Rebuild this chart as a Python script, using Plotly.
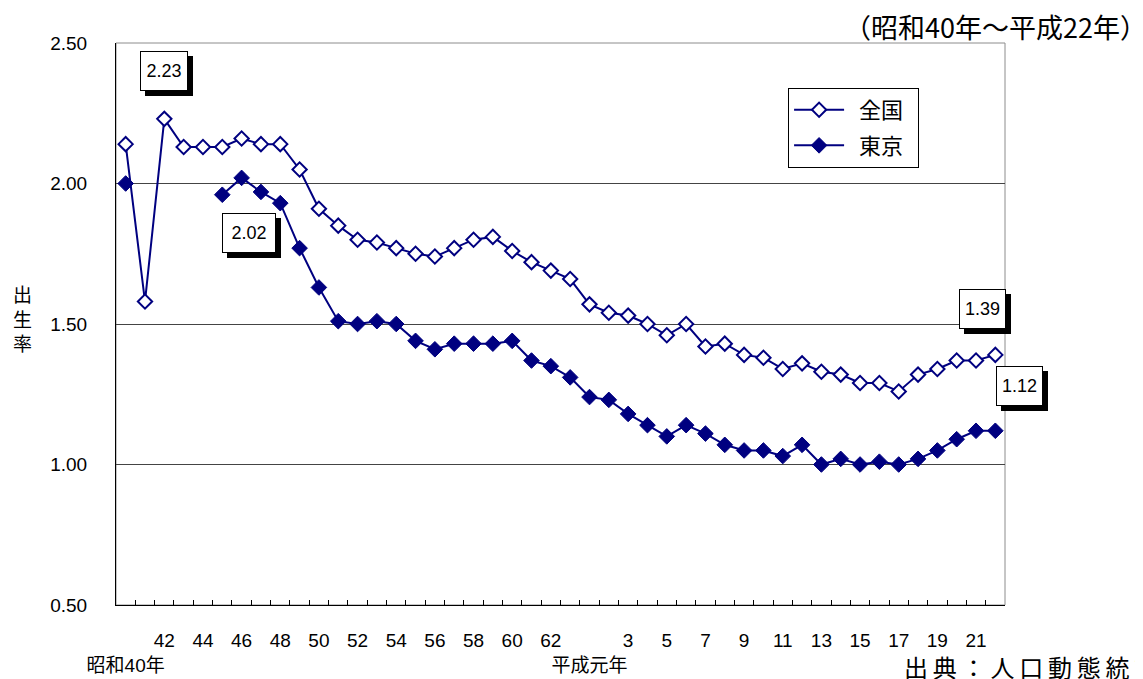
import plotly.graph_objects as go

# 合計特殊出生率（昭和40年～平成22年）
years = list(range(1965, 2011))
zenkoku = [2.14, 1.58, 2.23, 2.13, 2.13, 2.13, 2.16, 2.14, 2.14, 2.05,
           1.91, 1.85, 1.80, 1.79, 1.77, 1.75, 1.74, 1.77, 1.80, 1.81,
           1.76, 1.72, 1.69, 1.66, 1.57, 1.54, 1.53, 1.50, 1.46, 1.50,
           1.42, 1.43, 1.39, 1.38, 1.34, 1.36, 1.33, 1.32, 1.29, 1.29,
           1.26, 1.32, 1.34, 1.37, 1.37, 1.39]
tokyo = [2.00, None, None, None, None, 1.96, 2.02, 1.97, 1.93, 1.77,
         1.63, 1.51, 1.50, 1.51, 1.50, 1.44, 1.41, 1.43, 1.43, 1.43,
         1.44, 1.37, 1.35, 1.31, 1.24, 1.23, 1.18, 1.14, 1.10, 1.14,
         1.11, 1.07, 1.05, 1.05, 1.03, 1.07, 1.00, 1.02, 1.00, 1.01,
         1.00, 1.02, 1.05, 1.09, 1.12, 1.12]

# x tick labels: showa years to 62, heisei odd years after
tick_years = [1965] + list(range(1967, 1988, 2)) + [1989] + list(range(1991, 2010, 2))
tick_text = [" <br>昭和40年"] + [str(y - 1925) for y in range(1967, 1988, 2)] + \
            [" <br>平成元年"] + [str(y - 1988) for y in range(1991, 2010, 2)]

NAVY = "#000080"
NUMFONT = "Liberation Sans, Arial, Noto Sans CJK JP"
JPFONT = "Noto Sans CJK JP"

fig = go.Figure()

fig.add_trace(go.Scatter(
    x=years, y=zenkoku, name="\u00a0\u00a0全国\u00a0\u00a0", mode="lines+markers",
    legendgroup="a",
    line=dict(color=NAVY, width=2),
    marker=dict(symbol="diamond", size=11, color="white",
                line=dict(color=NAVY, width=2)),
))
fig.add_trace(go.Scatter(
    x=years, y=tokyo, name="\u00a0\u00a0東京\u00a0\u00a0", mode="lines+markers",
    legendgroup="b",
    line=dict(color=NAVY, width=2),
    marker=dict(symbol="diamond", size=12, color=NAVY,
                line=dict(color=NAVY, width=1)),
))

# value callouts with drop shadow: (text, anchor year, box y, x pixel shift, box width)
callouts = [
    (f"{zenkoku[2]:.2f}", 1967, 2.401, 0, 48),
    (f"{tokyo[6]:.2f}", 1971, 1.824, 7, 54),
    (f"{zenkoku[-1]:.2f}", 2009, 1.555, 6, 47),
    (f"{tokyo[-1]:.2f}", 2010, 1.278, 24, 47),
]
for txt, bx, by, sh, bw in callouts:
    fig.add_annotation(x=bx, y=by, xref="x", yref="y", text=txt, showarrow=False,
                       font=dict(family=NUMFONT, size=18, color="black"),
                       bgcolor="black", bordercolor="black", borderwidth=1,
                       borderpad=0, width=bw - 2, height=38, xshift=sh + 5, yshift=-5)
    fig.add_annotation(x=bx, y=by, xref="x", yref="y", text=txt, showarrow=False,
                       font=dict(family=NUMFONT, size=18, color="black"),
                       bgcolor="white", bordercolor="black", borderwidth=1,
                       borderpad=0, width=bw - 2, height=38, xshift=sh)

fig.add_annotation(x=-0.1057, y=0.5107, xref="paper", yref="paper",
                   xanchor="center", yanchor="middle",
                   text="出<br>生<br>率", showarrow=False,
                   font=dict(family=JPFONT, size=19, color="black"))
fig.add_annotation(x=1.162, y=1.030, xref="paper", yref="paper",
                   xanchor="right", yanchor="middle",
                   text="（昭和40年～平成22年）", showarrow=False,
                   font=dict(family=JPFONT, size=27, color="black"))
fig.add_annotation(x=0.8841, y=-0.1103, xref="paper", yref="paper",
                   xanchor="left", yanchor="middle",
                   text="出\u2009典\u2009：\u2009人\u2009口\u2009動\u2009態\u2009統\u2009計",
                   showarrow=False,
                   font=dict(family=JPFONT, size=24, color="black"))

# plot area frame (top/right in gray)
fig.add_shape(type="rect", xref="paper", yref="paper", x0=0, y0=0, x1=1, y1=1,
              line=dict(color="#8c8c8c", width=1), layer="below")

# page body has an 8px margin, so the figure is sized/offset to compensate
fig.update_layout(
    width=1135, height=671,
    margin=dict(l=108, r=138, t=35, b=74, autoexpand=False),
    paper_bgcolor="white", plot_bgcolor="white",
    showlegend=True,
    legend=dict(x=0.756, y=0.92, xanchor="left", yanchor="top",
                bgcolor="white", bordercolor="black", borderwidth=1,
                font=dict(family=JPFONT, size=22, color="black"),
                itemwidth=50, traceorder="grouped", tracegroupgap=4),
    xaxis=dict(
        range=[1964.5, 2010.5], tickmode="array", tickvals=tick_years,
        ticktext=tick_text, ticks="", showgrid=False, zeroline=False,
        showline=True, linecolor="black", linewidth=1, tickangle=0,
        automargin=False,
        tickfont=dict(family=NUMFONT, size=19, color="black"),
        ticklabelstandoff=18,
        minor=dict(tickmode="array", tickvals=[y + 0.5 for y in years[:-1]],
                   ticks="inside", ticklen=5, tickcolor="black", showgrid=False),
    ),
    yaxis=dict(
        range=[0.5, 2.5], tickmode="array", tickvals=[0.5, 1.0, 1.5, 2.0, 2.5],
        tickformat=".2f", ticks="", showgrid=True, gridcolor="#444444", gridwidth=1,
        zeroline=False, showline=True, linecolor="black", linewidth=1,
        automargin=False,
        tickfont=dict(family=NUMFONT, size=19, color="black"),
        ticklabelstandoff=24,
    ),
)

fig.write_html("out.html")
